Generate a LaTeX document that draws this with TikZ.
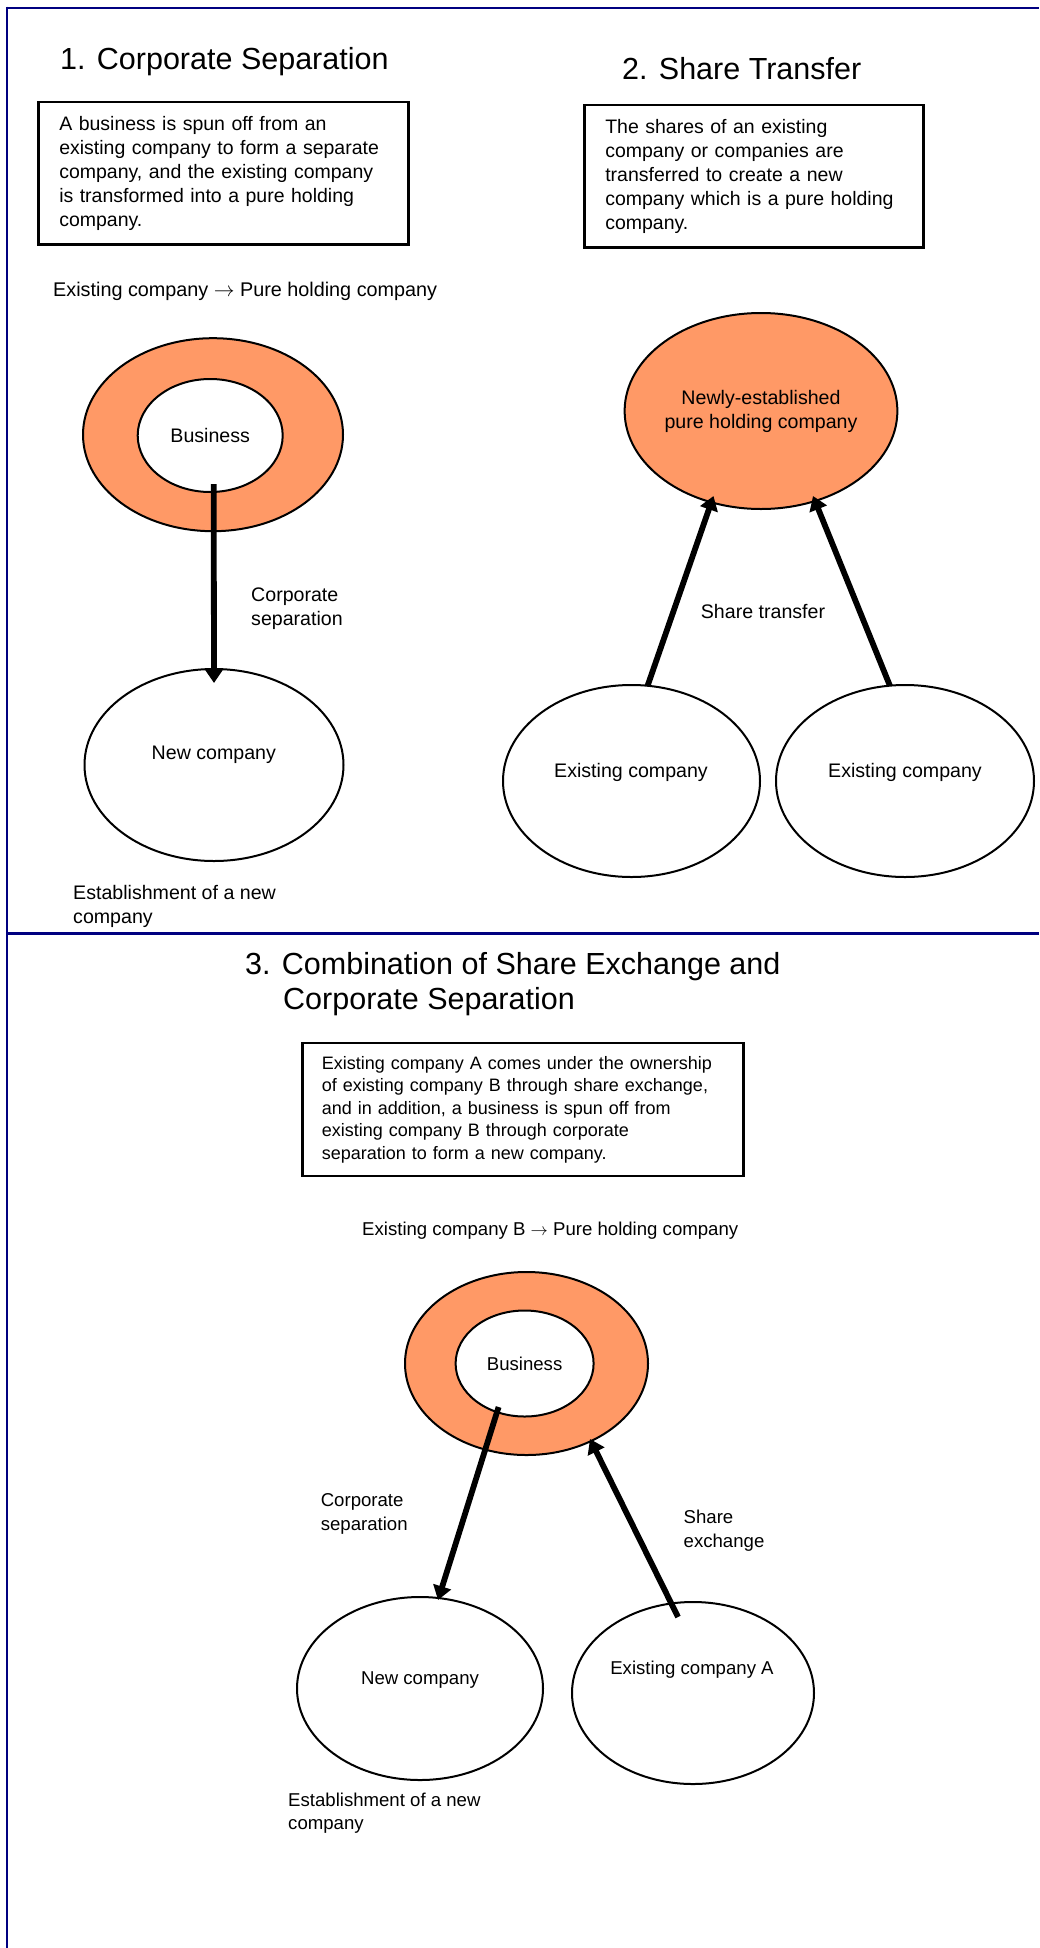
\documentclass[tikz,border=0pt]{standalone}
\usepackage{fontspec}
\setmainfont{Liberation Sans}
\usetikzlibrary{shapes.geometric,arrows.meta,calc}
\definecolor{ringorange}{HTML}{FF9966}
\definecolor{framenavy}{HTML}{000080}
\newcommand\fsz[2]{\fontsize{#1pt}{#2pt}\selectfont}
\begin{document}
\begin{tikzpicture}[x=1pt,y=-1pt,
  every node/.style={inner sep=0pt, font=\fsz{19.6}{24}},
  small/.style={font=\fsz{18.6}{23.5}},
  ttl/.style={anchor=base west, align=left, font=\fsz{30.5}{35}},
  descbox/.style={draw, line width=2.5pt, align=left, anchor=north west, inner xsep=21pt},
  co/.style={draw, ellipse, line width=2pt, fill=white},
  ringco/.style={co, fill=ringorange},
  lbl/.style={anchor=north west, align=left},
  flow/.style={line width=5.8pt, -{Triangle[length=14pt,width=18pt]}},
  frame/.style={draw=framenavy, line width=2.3pt}
]
\useasboundingbox (0,0) rectangle (1039,1948);
% frame lines
\draw[frame] (6.7,7.8) -- (1039,7.8);
\draw[frame] (6.7,6.7) -- (6.7,1948);
\draw[frame] (6.7,933.5) -- (1039,933.5);

% ---------- Section 1 ----------
\node[ttl] (t1) at (60,69.3) {1. Corporate Separation};
\node[descbox, font=\fsz{19.5}{24}, text width=328pt, minimum height=142pt] (b1) at (37,101)
  {A business is spun off from an\\existing company to form a separate\\company, and the existing company\\is transformed into a pure holding\\company.};
\node[anchor=base west, font=\fsz{19.8}{24}] (h1) at (53,296) {Existing company \(\rightarrow\) Pure holding company};
\node[ringco, minimum width=260pt, minimum height=193pt] (outer1) at (213,434.7) {};
\node[co, minimum width=145pt, minimum height=113pt] (inner1) at (210.2,435.5) {Business};
\node[co, minimum width=259pt, minimum height=192pt] (new1) at (214,765) {};
\node (new1txt) at (213.8,755) {New company};
\node[lbl] (cs1) at (251,587.5) {Corporate\\separation};
\node[lbl] (est1) at (73,885.5) {Establishment of a new\\company};
\draw[flow] ($(inner1.center)+(3.5,48.5)$) -- ($(new1.center)+(0,-82)$);

% ---------- Section 2 ----------
\node[ttl] (t2) at (622,79.3) {2. Share Transfer};
\node[descbox, font=\fsz{19.5}{24}, text width=297pt, minimum height=142pt] (b2) at (583,104)
  {The shares of an existing\\company or companies are\\transferred to create a new\\company which is a pure holding\\company.};
\node[ringco, align=center, minimum width=257pt, minimum height=196pt] (hold2) at (761,411) {Newly-established\\pure holding company};
\node[co, minimum width=257pt, minimum height=192pt] (ex2a) at (631.5,781) {};
\node (ex2atxt) at (631,772) {Existing company};
\node[co, minimum width=258pt, minimum height=192pt] (ex2b) at (905,781) {};
\node (ex2btxt) at (905,772) {Existing company};
\node (st2) at (763,611.5) {Share transfer};
\draw[flow] ($(ex2a.center)+(16,-95)$) -- ($(hold2.center)+(-47.5,85)$);
\draw[flow] ($(ex2b.center)+(-15,-95)$) -- ($(hold2.center)+(52,85)$);

% ---------- Section 3 ----------
\node[ttl] (t3) at (245,1009) {3. Combination of Share Exchange and\\\hspace*{38pt}Corporate Separation};
\node[descbox, font=\fsz{18}{22.5}, inner xsep=19.6pt, text width=401.8pt, minimum height=133pt] (b3) at (301,1041.7)
  {Existing company A comes under the ownership\\of existing company B through share exchange,\\and in addition, a business is spun off from\\existing company B through corporate\\separation to form a new company.};
\node[anchor=base west, small] (h3) at (362,1235) {Existing company B \(\rightarrow\) Pure holding company};
\node[ringco, minimum width=243pt, minimum height=183pt] (outer3) at (526.5,1363.5) {};
\node[co, small, minimum width=138pt, minimum height=106pt] (inner3) at (524.6,1363.5) {Business};
\node[co, minimum width=246pt, minimum height=183pt] (new3) at (420,1688.5) {};
\node[small] (new3txt) at (420,1680) {New company};
\node[co, minimum width=242pt, minimum height=182pt] (exA) at (693,1693) {};
\node[small] (exAtxt) at (692,1670) {Existing company A};
\node[lbl, small] (cs3) at (320.6,1493.5) {Corporate\\separation};
\node[lbl, small] (se3) at (683.5,1510) {Share\\exchange};
\node[lbl, small] (est3) at (288,1792.5) {Establishment of a new\\company};
\draw[flow] ($(inner3.center)+(-26,43.5)$) -- ($(new3.center)+(18,-88.5)$);
\draw[flow] ($(exA.center)+(-15,-76)$) -- ($(outer3.center)+(63.5,75.5)$);
\end{tikzpicture}
\end{document}
